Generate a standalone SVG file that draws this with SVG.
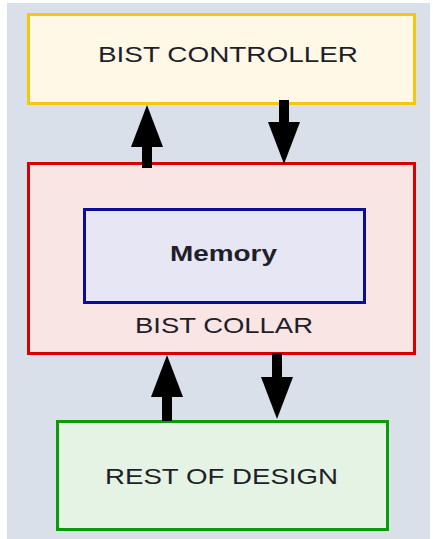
<svg xmlns="http://www.w3.org/2000/svg" width="433" height="539" viewBox="0 0 433 539">
  <defs>
    <style>
      .box { stroke-width: 3; }
      .lbl { font-family: "Liberation Sans", Arial, sans-serif; font-size: 22px; fill: #1f1f2a; text-anchor: middle; }
      .bold { font-weight: bold; }
      .conn { stroke: #000; stroke-width: 10; fill: none; marker-end: url(#head); }
    </style>
    <marker id="head" markerUnits="userSpaceOnUse" markerWidth="42" markerHeight="32" viewBox="0 0 42 32" refX="0" refY="16" orient="auto">
      <path d="M0,0 L42,16 L0,32 Z" fill="#000"/>
    </marker>
  </defs>
  <rect x="0" y="0" width="433" height="539" fill="#ffffff"/>
  <rect x="7" y="3" width="423" height="536" fill="#d9e0ea"/>

  <g id="bist-controller">
    <rect class="box" x="28.5" y="14.5" width="386" height="89" fill="#fff8e7" stroke="#f2c811"/>
    <text class="lbl" x="228" y="62" textLength="260" lengthAdjust="spacingAndGlyphs">BIST CONTROLLER</text>
  </g>

  <g id="bist-collar">
    <rect class="box" x="28.5" y="163.5" width="386" height="190" fill="#fae5e5" stroke="#d90000"/>
    <text class="lbl" x="224" y="333" textLength="178" lengthAdjust="spacingAndGlyphs">BIST COLLAR</text>
  </g>

  <g id="memory">
    <rect class="box" x="84.5" y="209.5" width="280" height="93" fill="#e6e6f5" stroke="#0c0c9c"/>
    <text class="lbl bold" x="223.5" y="261" textLength="107" lengthAdjust="spacingAndGlyphs">Memory</text>
  </g>

  <g id="rest-of-design">
    <rect class="box" x="57.5" y="421.5" width="330" height="108" fill="#e5f3e5" stroke="#0a9a0a"/>
    <text class="lbl" x="221.5" y="484" textLength="233" lengthAdjust="spacingAndGlyphs">REST OF DESIGN</text>
  </g>

  <g id="connectors">
    <line class="conn" x1="147" y1="168" x2="147" y2="147"/>
    <line class="conn" x1="284" y1="100" x2="284" y2="122"/>
    <line class="conn" x1="167" y1="421" x2="167" y2="397"/>
    <line class="conn" x1="277" y1="353" x2="277" y2="377"/>
  </g>
</svg>
